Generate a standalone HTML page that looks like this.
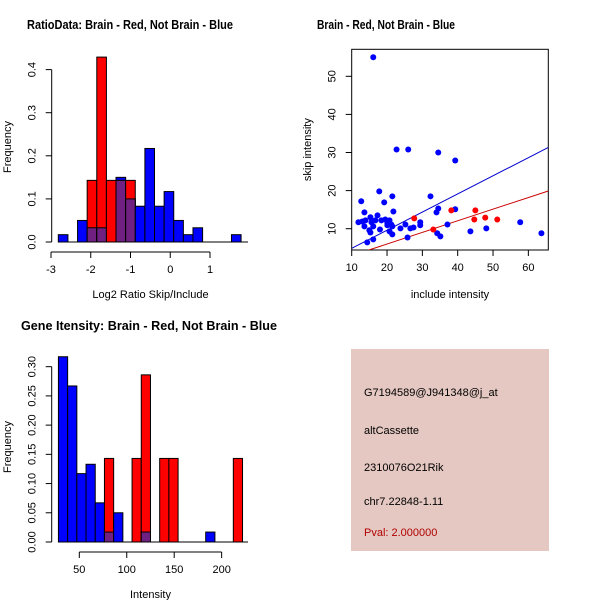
<!DOCTYPE html>
<html><head><meta charset="utf-8"><style>
html,body{margin:0;padding:0;background:#fff}
svg text{font-family:"Liberation Sans",sans-serif;fill:#000}
</style></head><body>
<svg id="c" width="600" height="600" viewBox="0 0 600 600" xmlns="http://www.w3.org/2000/svg">
<rect width="600" height="600" fill="#fff"/>
<text x="130" y="29" font-size="13" font-weight="bold" text-anchor="middle" textLength="206" lengthAdjust="spacingAndGlyphs">RatioData: Brain - Red, Not Brain - Blue</text>
<text x="386" y="29" font-size="13" font-weight="bold" text-anchor="middle" textLength="138" lengthAdjust="spacingAndGlyphs">Brain - Red, Not Brain - Blue</text>
<text x="149" y="330" font-size="13" font-weight="bold" text-anchor="middle" textLength="256" lengthAdjust="spacingAndGlyphs">Gene Itensity: Brain - Red, Not Brain - Blue</text>
<g id="p1"></g>
<g id="p2"></g>
<g id="p3"></g>
<g>
<rect x="351" y="349" width="198" height="202" fill="#e5c8c2"/>
<text x="364" y="396" font-size="11">G7194589@J941348@j_at</text>
<text x="364" y="434" font-size="11">altCassette</text>
<text x="364" y="471" font-size="11">2310076O21Rik</text>
<text x="364" y="505" font-size="11">chr7.22848-1.11</text>
<text x="364" y="536" font-size="11" style="fill:#b00000">Pval: 2.000000</text>
</g>
</svg>
<script>
// ---- Ratio histogram data ----
const ratioBinStart = -2.816;
const ratioBinWidth = 0.242;
const ratioBlue = [0.017,0,0.05,0.033,0.033,0,0.15,0.1,0.083,0.217,0.083,0.117,0.05,0.017,0.033,0,0,0,0.017];
const ratioRed  = [0,0,0,0.143,0.429,0.143,0.143,0.143,0,0,0,0,0,0,0,0,0,0,0];
const ratioXTicks = [-3,-2,-1,0,1];
const ratioYTicks = [0,0.1,0.2,0.3,0.4];
const ratioYLabels = ["0.0","0.1","0.2","0.3","0.4"];
// ---- Scatter data ----
const blueX = [16.1,22.7,26.0,34.5,39.3,17.8,21.5,32.3,12.7,19.2,13.6,21.8,17.3,15.3,11.9,13.0,13.9,15.6,16.7,18.4,19.5,20.7,20.1,21.2,13.6,16.1,20.1,21.5,18.0,15.0,15.3,20.7,21.5,16.1,14.4,25.2,23.8,26.6,27.5,29.4,29.4,25.8,34.0,34.5,37.1,34.2,35.1,39.3,43.6,48.1,57.7,63.7];
const blueY = [55,30.8,30.8,30.0,27.9,19.8,18.5,18.5,17.2,16.9,14.3,14.5,13.5,13.0,11.7,11.9,12.2,11.7,12.2,12.2,12.4,12.2,11.4,11.1,10.6,10.6,10.9,10.6,9.8,9.6,9.0,9.3,8.5,7.2,6.4,11.1,10.1,10.1,10.3,11.7,10.9,7.7,14.3,15.3,11.1,8.8,8.0,15.1,9.3,10.1,11.7,8.8];
const redX = [27.7,33.1,38.2,45.0,44.7,47.8,51.2];
const redY = [12.7,9.8,14.8,14.8,12.4,12.9,12.4];
const blueFit = [0.08,0.476];
const redFit = [-0.12,0.305];
const scXTicks = [10,20,30,40,50,60];
const scYTicks = [10,20,30,40,50];
// ---- Intensity histogram data ----
const intBinStart = 28;
const intBinWidth = 9.7;
const intBlue = [0.317,0.267,0.117,0.133,0.067,0.017,0.05,0,0,0.017,0,0,0,0,0,0,0.017,0,0,0];
const intRed  = [0,0,0,0,0,0.143,0,0,0.143,0.286,0,0.143,0.143,0,0,0,0,0,0,0.143];
const intXTicks = [50,100,150,200];
const intYTicks = [0,0.05,0.1,0.15,0.2,0.25,0.3];
const intYLabels = ["0.00","0.05","0.10","0.15","0.20","0.25","0.30"];

const NS="http://www.w3.org/2000/svg";
function mk(parent,tag,attrs){const e=document.createElementNS(NS,tag);for(const k in attrs)e.setAttribute(k,attrs[k]);parent.appendChild(e);return e;}
const PURPLE="#702080";

function hist(g,sx,sy,start,w,blue,red,xt,xl,yt,yl,xTitle,axY,axX,baseL,baseR,yAxisX,ylabX,ylabY){
  const y0=sy(0);
  const baseline=mk(g,'line',{x1:baseL,x2:baseR,y1:y0,y2:y0,stroke:'#000','stroke-width':1});
  
  
  for(let i=0;i<blue.length;i++){
    const x1=sx(start+i*w),x2=sx(start+(i+1)*w);
    const b=blue[i],r=red[i];
    if(b>0){const e=mk(g,'rect',{x:x1,y:sy(b),width:x2-x1,height:y0-sy(b),fill:'#0000ff',stroke:'#000','stroke-width':1});
      
      }
    if(r>0){const e=mk(g,'rect',{x:x1,y:sy(r),width:x2-x1,height:y0-sy(r),fill:'#ff0000',stroke:'#000','stroke-width':1});
      
      }
    const m=Math.min(b,r);
    if(m>0){const e=mk(g,'rect',{x:x1,y:sy(m),width:x2-x1,height:y0-sy(m),fill:PURPLE,stroke:'#000','stroke-width':1});
      
      }
  }
  const xa=mk(g,'line',{x1:sx(xt[0]),x2:sx(xt[xt.length-1]),y1:axY,y2:axY,stroke:'#000'});
  
  
  xt.forEach((v,i)=>{mk(g,'line',{x1:sx(v),x2:sx(v),y1:axY,y2:axY+6,stroke:'#000'});
    const t=mk(g,'text',{x:sx(v),y:axY+21,'font-size':11,'text-anchor':'middle'});t.textContent=xl[i];
    
    });
  const ya=mk(g,'line',{x1:yAxisX,x2:yAxisX,y1:sy(yt[0]),y2:sy(yt[yt.length-1]),stroke:'#000'});
  
  
  yt.forEach((v,i)=>{mk(g,'line',{x1:yAxisX-6,x2:yAxisX,y1:sy(v),y2:sy(v),stroke:'#000'});
    const t=mk(g,'text',{x:0,y:0,'font-size':11,'text-anchor':'middle',transform:`translate(${yAxisX-16},${sy(v)}) rotate(-90)`});t.textContent=yl[i];
    
    });
  const xtl=mk(g,'text',{x:(sx(xt[0])+sx(xt[xt.length-1]))/2+(axX||0),y:axY+46,'font-size':11,'text-anchor':'middle'});xtl.textContent=xTitle;
  
  
  const ytl=mk(g,'text',{x:0,y:0,'font-size':11,'text-anchor':'middle',transform:`translate(${ylabX},${ylabY}) rotate(-90)`});ytl.textContent='Frequency';
  
  
}

{
  const sx=v=>51+(v+3)*39.75, sy=v=>242-v*431;
  hist(document.getElementById('p1'),sx,sy,ratioBinStart,ratioBinWidth,ratioBlue,ratioRed,
    ratioXTicks,ratioXTicks.map(String),ratioYTicks,ratioYLabels,'Log2 Ratio Skip/Include',252,20,58,248,51.7,11,147);
}
{
  const sx=v=>79.3+(v-50)*0.949, sy=v=>542-v*584.4;
  hist(document.getElementById('p3'),sx,sy,intBinStart,intBinWidth,intBlue,intRed,
    intXTicks,intXTicks.map(String),intYTicks,intYLabels,'Intensity',552,0,58,248,51.7,11,447);
}
{
  const g=document.getElementById('p2');
  const L=351.7,R=548.3,T=49.3,B=250;
  const sx=v=>351.7+(v-10)*3.533, sy=v=>228.7-(v-10)*3.81;
  const box=mk(g,'rect',{x:L,y:T,width:R-L,height:B-T,fill:'none',stroke:'#000'});
  
  
  const clip=mk(g,'clipPath',{id:'sclip'});mk(clip,'rect',{x:L,y:T,width:R-L,height:B-T});
  const fits=[[blueFit,'#0000cc','blue-fit-line'],[redFit,'#cc0000','red-fit-line']];
  const xmin=10+(L-351.7)/3.533, xmax=10+(R-351.7)/3.533;
  fits.forEach(([f,c,n])=>{const l=mk(g,'line',{x1:sx(xmin),y1:sy(f[0]+f[1]*xmin),x2:sx(xmax),y2:sy(f[0]+f[1]*xmax),stroke:c,'stroke-width':1,'clip-path':'url(#sclip)'});
    
    });
  blueX.forEach((x,i)=>{const c=mk(g,'circle',{cx:sx(x),cy:sy(blueY[i]),r:3,fill:'#0000ff'});
    
    });
  redX.forEach((x,i)=>{const c=mk(g,'circle',{cx:sx(x),cy:sy(redY[i]),r:3,fill:'#ff0000'});
    
    });
  scXTicks.forEach(v=>{mk(g,'line',{x1:sx(v),x2:sx(v),y1:B,y2:B+6,stroke:'#000'});
    const t=mk(g,'text',{x:sx(v),y:B+21,'font-size':11,'text-anchor':'middle'});t.textContent=v;
    
    });
  scYTicks.forEach(v=>{mk(g,'line',{x1:L-6,x2:L,y1:sy(v),y2:sy(v),stroke:'#000'});
    const t=mk(g,'text',{x:0,y:0,'font-size':11,'text-anchor':'middle',transform:`translate(${L-16},${sy(v)}) rotate(-90)`});t.textContent=v;
    
    });
  const xt=mk(g,'text',{x:(L+R)/2,y:B+48,'font-size':11,'text-anchor':'middle'});xt.textContent='include intensity';
  
  
  const yt=mk(g,'text',{x:0,y:0,'font-size':11,'text-anchor':'middle',transform:`translate(311,${(T+B)/2}) rotate(-90)`});yt.textContent='skip intensity';
  
  
}
</script>
</body></html>
